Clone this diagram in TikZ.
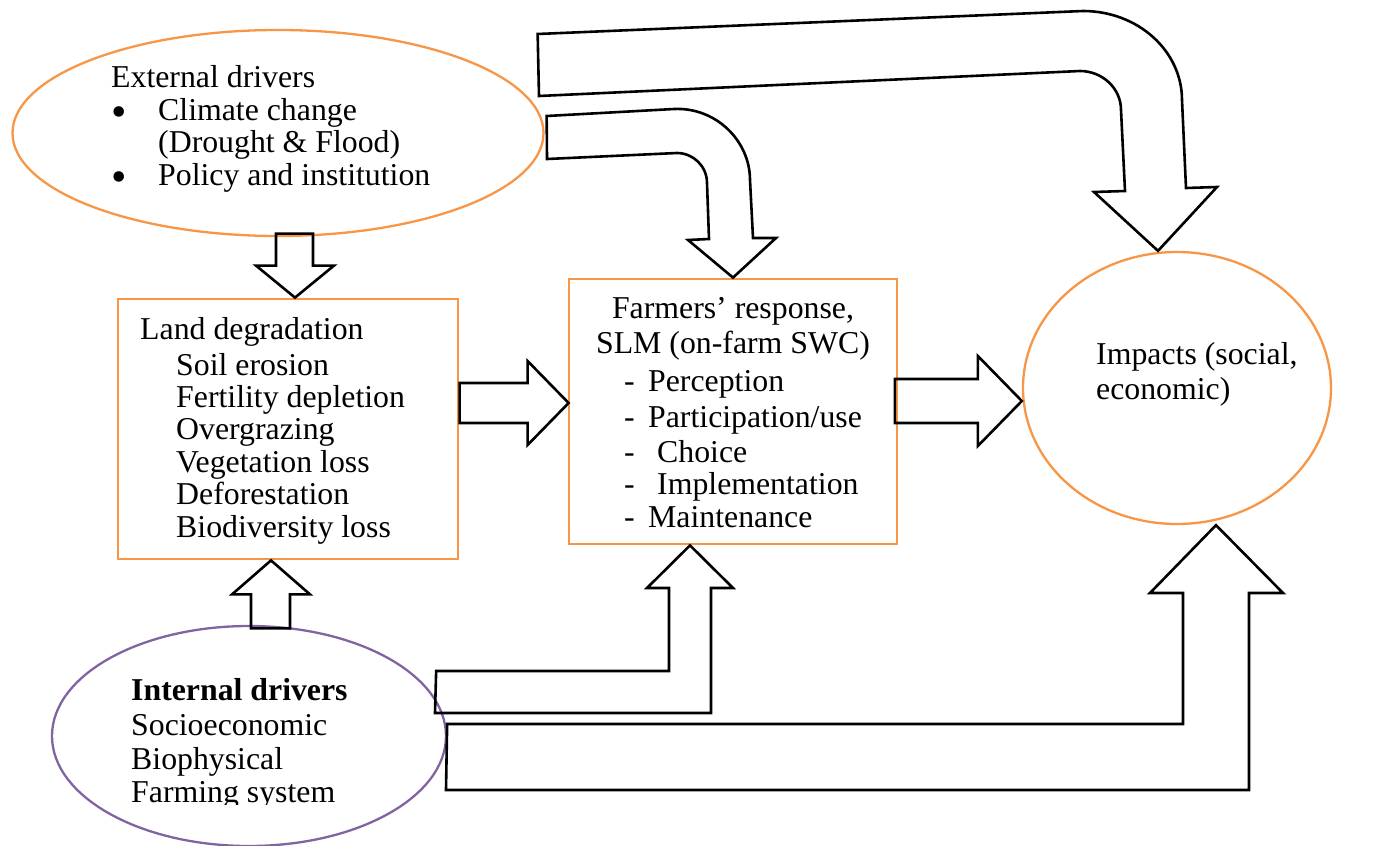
\documentclass[tikz,border=0pt]{standalone}
\usepackage{fontspec}
\setmainfont{Liberation Serif}
\usepackage{xcolor}
\definecolor{mdorange}{HTML}{F79646}
\definecolor{mdpurple}{HTML}{8064A2}
\usetikzlibrary{calc,shapes.geometric}
\newcommand{\diagfont}{\fontsize{31.8pt}{33pt}\selectfont}
\newcommand{\bulletmark}{\raisebox{-6pt}{\fontsize{44pt}{44pt}\selectfont\textbullet}}
\tikzset{
  shp/.style={inner sep=0pt, line width=2.3pt},
  nbox/.style={shp, draw=mdorange, rectangle, line width=2.8pt},
  noval/.style={shp, draw=mdorange, ellipse},
  npurple/.style={shp, draw=mdpurple, ellipse},
  txt/.style={inner sep=0pt, anchor=base west, font=\diagfont},
  blk/.style={draw=black, line width=2.6pt, line join=miter},
}

\begin{document}
\begin{tikzpicture}[x=1pt, y=-1pt]
  \useasboundingbox (0,0) rectangle (1385,846);

  % the five blocks
  \node[noval, minimum width=531pt, minimum height=206pt] (ext) at (278,133) {};
  \node[nbox, minimum width=340pt, minimum height=260pt] (land) at (288,429) {};
  \node[nbox, minimum width=328pt, minimum height=265pt] (fr) at (733,411.5) {};
  \node[noval, minimum width=308pt, minimum height=272pt] (imp) at (1177,388) {};
  \node[npurple, minimum width=394pt, minimum height=220pt] (int) at (249,736) {};

  % straight block arrows
  \draw[blk] ($(land.north)+(7,0)$) -- ++(39,-32) -- ++(-21,0) -- ++(0,-32)
    -- ++(-37,0) -- ++(0,32) -- ++(-20,0) -- cycle;
  \draw[blk] ($(land.south)+(-17,0)$) -- ++(39,34) -- ++(-20,0) -- ++(0,34)
    -- ++(-39,0) -- ++(0,-34) -- ++(-19,0) -- cycle;
  \draw[blk] ($(fr.west)+(1,-8.5)$) -- ++(-41,-42) -- ++(0,22) -- ++(-68,0)
    -- ++(0,40) -- ++(68,0) -- ++(0,22) -- cycle;
  \draw[blk] ($(imp.west)+(0,13)$) -- ++(-44,-45) -- ++(0,23) -- ++(-83,0)
    -- ++(0,44) -- ++(83,0) -- ++(0,23) -- cycle;

  % bent block arrows from the external drivers
  \draw[blk] ($(ext.east)+(2,-17)$) -- (674,109)
    .. controls (716,107) and (750,141) .. (750,180) -- (753,238) -- (776,238)
    -- (fr.north) -- (688,240) -- (709,239) -- (707,183)
    .. controls (707,166) and (693,153) .. (677,153) -- (547,159) -- cycle;
  \draw[blk] ($(ext.east)+(-7,-99)$) -- (1083,11)
    .. controls (1138,11) and (1182,51) .. (1182,100) -- (1186,188) -- (1217,187)
    -- ($(imp.north)+(-19,0)$) -- (1094,192) -- (1125,191) -- (1121,110)
    .. controls (1121,88) and (1102,71) .. (1080,71) -- (539,96) -- cycle;

  % bent block arrows from the internal drivers
  \draw[blk] ($(int.east)+(-11,-65)$) -- (669,671) -- (669,588) -- (647,588)
    -- ($(fr.south)+(-43,0)$) -- (733,588) -- (711,588) -- (711,713)
    -- (435,713) -- cycle;
  \draw[blk] ($(int.east)+(0,-12)$) -- (1183,724) -- (1183,593) -- (1150,593)
    -- ($(imp.south)+(39,0)$) -- (1283,593) -- (1249,593) -- (1249,790)
    -- (446,790) -- cycle;

  % texts
  \node[txt] (exthead) at (111,87) {External drivers};
  \node[txt] (bul1) at (111,120) {\bulletmark};
  \node[txt] (ext1) at (158,120) {Climate change};
  \node[txt] (ext2) at (158,152) {(Drought \& Flood)};
  \node[txt] (bul2) at (111,185) {\bulletmark};
  \node[txt] (ext3) at (158,185) {Policy and institution};

  \node[txt] (ldhead) at (140,339) {Land degradation};
  \foreach \txt [count=\i] in {Soil erosion, Fertility depletion, Overgrazing,
      Vegetation loss, Deforestation, Biodiversity loss}
    \node[txt] (ld\i) at (176,{375+32.4*(\i-1)}) {\txt};

  \node[txt, anchor=base] (frt1) at (733,318) {Farmers’ response,};
  \node[txt, anchor=base] (frt2) at (733,353) {SLM (on-farm SWC)};
  \foreach \gap/\txt/\yy [count=\i] in {24/Perception/391, 24/{Participation/use}/427,
      33/Choice/462, 33/Implementation/494, 24/Maintenance/527}
    \node[txt] (fl\i) at (624,\yy) {\makebox[\gap pt][l]{-}\txt};

  \node[txt] (imp1) at (1096,364) {Impacts (social,};
  \node[txt] (imp2) at (1096,399) {economic)};

  \node[txt, font=\diagfont\bfseries] (idhead) at (131,700) {Internal drivers};
  \node[txt] (id1) at (131,735) {Socioeconomic};
  \node[txt] (id2) at (131,769) {Biophysical};
  \begin{scope}
    \clip (0,0) rectangle (1385,804);
    \node[txt] (id3) at (131,802) {Farming system};
  \end{scope}
\end{tikzpicture}
\end{document}
